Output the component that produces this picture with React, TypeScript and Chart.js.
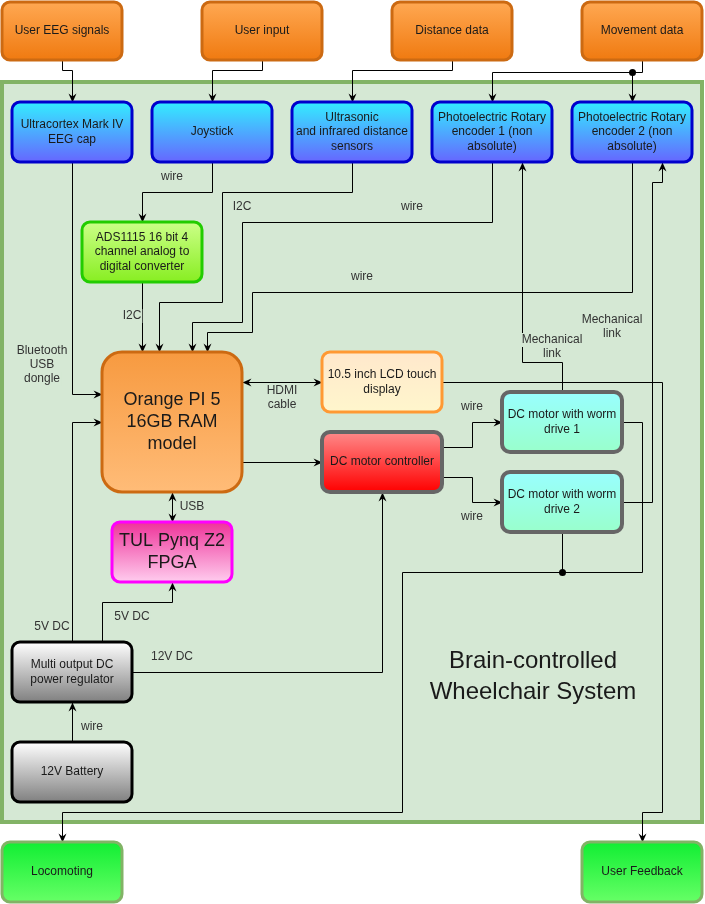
import React, { useEffect, useRef } from "react";
import { Chart, registerables } from "chart.js";

Chart.register(...registerables);

const FONT = '"Liberation Sans", Arial, sans-serif';

// node: [label, x, y, w, h, style, fontSize]
const nodeLabels = [
  "User EEG signals", "User input", "Distance data", "Movement data",
  "Ultracortex Mark IV\nEEG cap", "Joystick", "Ultrasonic\nand infrared distance\nsensors",
  "Photoelectric Rotary\nencoder 1 (non\nabsolute)", "Photoelectric Rotary\nencoder 2 (non\nabsolute)",
  "ADS1115 16 bit 4\nchannel analog to\ndigital converter", "Orange PI 5\n16GB RAM\nmodel",
  "10.5 inch LCD touch\ndisplay", "DC motor controller", "DC motor with worm\ndrive 1",
  "DC motor with worm\ndrive 2", "TUL Pynq Z2\nFPGA", "Multi output DC\npower regulator",
  "12V Battery", "Locomoting", "User Feedback",
];
const nodeBoxes: number[][] = [
  [2, 2, 120, 58], [202, 2, 120, 58], [392, 2, 120, 58], [582, 2, 120, 58],
  [12, 102, 120, 60], [152, 102, 120, 60], [292, 102, 120, 60], [432, 102, 120, 60], [572, 102, 120, 60],
  [82, 222, 120, 60], [102, 352, 140, 140], [322, 352, 120, 60], [322, 432, 120, 60],
  [502, 392, 120, 60], [502, 472, 120, 60], [112, 522, 120, 60], [12, 642, 120, 60],
  [12, 742, 120, 60], [2, 842, 120, 60], [582, 842, 120, 60],
];
const nodeStyles = [
  "input", "input", "input", "input", "blue", "blue", "blue", "blue", "blue",
  "lime", "pi", "lcd", "red", "motor", "motor", "fpga", "gray", "gray", "out", "out",
];

const styles: Record<string, { top: string; bottom: string; border: string; lw: number; fs: number; r: number }> = {
  input: { top: "#ffa852", bottom: "#f07a10", border: "#cc6a12", lw: 3, fs: 12, r: 8 },
  blue: { top: "#33eeff", bottom: "#6666ff", border: "#0000cc", lw: 3, fs: 12, r: 8 },
  lime: { top: "#ccff88", bottom: "#88ee22", border: "#22cc00", lw: 3, fs: 12, r: 8 },
  pi: { top: "#f79a40", bottom: "#ffbc78", border: "#cc6a12", lw: 3, fs: 18, r: 20 },
  lcd: { top: "#ffe8cc", bottom: "#fff6cc", border: "#ff9933", lw: 3, fs: 12, r: 8 },
  red: { top: "#ff8a8a", bottom: "#ff0000", border: "#666666", lw: 4, fs: 12, r: 8 },
  motor: { top: "#99ffff", bottom: "#99ffcc", border: "#666666", lw: 4, fs: 12, r: 8 },
  fpga: { top: "#ee3399", bottom: "#ffccee", border: "#ff00ff", lw: 3, fs: 18, r: 8 },
  gray: { top: "#ffffff", bottom: "#808080", border: "#000000", lw: 3, fs: 12, r: 8 },
  out: { top: "#11ee33", bottom: "#66ff66", border: "#82b366", lw: 3, fs: 12, r: 8 },
};

// edges: polyline points, arrow at end; startArrow for bidirectional
const edgePaths: number[][][] = [
  [[62, 60], [62, 70], [72, 70], [72, 102]],
  [[262, 60], [262, 70], [212, 70], [212, 102]],
  [[452, 60], [452, 70], [352, 70], [352, 102]],
  [[642, 60], [642, 72], [492, 72], [492, 102]],
  [[632, 72], [632, 102]],
  [[72, 162], [72, 394], [102, 394]],
  [[212, 162], [212, 192], [142, 192], [142, 222]],
  [[142, 282], [142, 352]],
  [[352, 162], [352, 192], [222, 192], [222, 302], [159, 302], [159, 352]],
  [[492, 162], [492, 222], [242, 222], [242, 322], [192, 322], [192, 352]],
  [[632, 162], [632, 292], [252, 292], [252, 332], [207, 332], [207, 352]],
  [[242, 382], [322, 382]],
  [[442, 382], [662, 382], [662, 812], [642, 812], [642, 842]],
  [[242, 462], [322, 462]],
  [[442, 447], [472, 447], [472, 422], [502, 422]],
  [[442, 477], [472, 477], [472, 502], [502, 502]],
  [[562, 392], [562, 362], [522, 362], [522, 162]],
  [[622, 502], [652, 502], [652, 182], [662, 182], [662, 162]],
  [[622, 422], [642, 422], [642, 572], [402, 572], [402, 812], [62, 812], [62, 842]],
  [[562, 532], [562, 572]],
  [[172, 492], [172, 522]],
  [[72, 642], [72, 422], [102, 422]],
  [[102, 642], [102, 602], [172, 602], [172, 582]],
  [[132, 672], [382, 672], [382, 492]],
  [[72, 742], [72, 702]],
];
const edgeArrows = [1, 1, 1, 1, 1, 1, 1, 1, 1, 1, 1, 2, 1, 1, 1, 1, 1, 1, 1, 0, 2, 1, 1, 1, 1];
const junctions: number[][] = [[632, 72], [562, 572]];

// edge labels: [text, x, y]
const edgeLabels: [string, number, number][] = [
  ["Bluetooth\nUSB\ndongle", 42, 365], ["wire", 172, 177], ["I2C", 132, 316], ["I2C", 242, 207],
  ["wire", 412, 207], ["wire", 362, 277], ["HDMI\ncable", 282, 398], ["wire", 472, 407],
  ["wire", 472, 517], ["Mechanical\nlink", 552, 347], ["Mechanical\nlink", 612, 327],
  ["USB", 192, 507], ["5V DC", 52, 627], ["5V DC", 132, 617], ["12V DC", 172, 657], ["wire", 92, 727],
];
const titleLines = ["Brain-controlled", "Wheelchair System"];

const diagramPlugin = {
  id: "diagram",
  afterDraw(chart: any) {
    const ctx: CanvasRenderingContext2D = chart.ctx;
    const sx = chart.scales.x, sy = chart.scales.y;
    const X = (v: number) => sx.getPixelForValue(v);
    const Y = (v: number) => sy.getPixelForValue(v);
    ctx.save();
    // container
    ctx.fillStyle = "#d5e8d4";
    ctx.strokeStyle = "#82b366";
    ctx.lineWidth = 4;
    ctx.fillRect(X(2), Y(82), X(702) - X(2), Y(822) - Y(82));
    ctx.strokeRect(X(2), Y(82), X(702) - X(2), Y(822) - Y(82));
    // title
    ctx.fillStyle = "#1a1a1a";
    ctx.font = `24px ${FONT}`;
    ctx.textAlign = "center";
    ctx.textBaseline = "middle";
    titleLines.forEach((t, i) => ctx.fillText(t, X(533), Y(661 + i * 31)));
    // edges
    const arrow = (x1: number, y1: number, x2: number, y2: number) => {
      const a = Math.atan2(y2 - y1, x2 - x1);
      ctx.beginPath();
      ctx.moveTo(x2, y2);
      ctx.lineTo(x2 - 9 * Math.cos(a) + 4 * Math.sin(a), y2 - 9 * Math.sin(a) - 4 * Math.cos(a));
      ctx.lineTo(x2 - 6 * Math.cos(a), y2 - 6 * Math.sin(a));
      ctx.lineTo(x2 - 9 * Math.cos(a) - 4 * Math.sin(a), y2 - 9 * Math.sin(a) + 4 * Math.cos(a));
      ctx.closePath();
      ctx.fill();
    };
    ctx.strokeStyle = "#000";
    ctx.fillStyle = "#000";
    ctx.lineWidth = 1;
    edgePaths.forEach((p, i) => {
      const pts = p.map(([a, b]) => [X(a) + 0.5, Y(b) + 0.5]);
      ctx.beginPath();
      pts.forEach(([a, b], j) => (j ? ctx.lineTo(a, b) : ctx.moveTo(a, b)));
      ctx.stroke();
      const n = pts.length;
      if (edgeArrows[i] >= 1) arrow(pts[n - 2][0], pts[n - 2][1], pts[n - 1][0], pts[n - 1][1]);
      if (edgeArrows[i] === 2) arrow(pts[1][0], pts[1][1], pts[0][0], pts[0][1]);
    });
    junctions.forEach(([a, b]) => {
      ctx.beginPath();
      ctx.arc(X(a) + 0.5, Y(b) + 0.5, 3.5, 0, Math.PI * 2);
      ctx.fill();
    });
    // edge labels
    ctx.font = `12px ${FONT}`;
    ctx.fillStyle = "#333";
    edgeLabels.forEach(([t, a, b]) => {
      const lines = t.split("\n");
      lines.forEach((l, k) => {
        const w = ctx.measureText(l).width;
        ctx.fillStyle = "#d5e8d4";
        ctx.fillRect(X(a) - w / 2 - 1, Y(b) + (k - (lines.length - 1) / 2) * 14 - 7, w + 2, 14);
        ctx.fillStyle = "#333";
        ctx.fillText(l, X(a), Y(b) + (k - (lines.length - 1) / 2) * 14);
      });
    });
    // nodes
    nodeLabels.forEach((label, i) => {
      const [bx, by, bw, bh] = nodeBoxes[i];
      const s = styles[nodeStyles[i]];
      const x0 = X(bx), y0 = Y(by), w = X(bx + bw) - x0, h = Y(by + bh) - y0;
      const g = ctx.createLinearGradient(0, y0, 0, y0 + h);
      g.addColorStop(0, s.top);
      g.addColorStop(1, s.bottom);
      ctx.beginPath();
      ctx.roundRect(x0, y0, w, h, s.r);
      ctx.fillStyle = g;
      ctx.fill();
      ctx.lineWidth = s.lw;
      ctx.strokeStyle = s.border;
      ctx.stroke();
      ctx.fillStyle = "#1a1a1a";
      ctx.font = `${s.fs}px ${FONT}`;
      const lines = label.split("\n");
      const lh = s.fs * 1.2;
      lines.forEach((l, k) =>
        ctx.fillText(l, x0 + w / 2, y0 + h / 2 + (k - (lines.length - 1) / 2) * lh)
      );
    });
    ctx.restore();
  },
};

export default function App() {
  const ref = useRef<HTMLCanvasElement | null>(null);
  useEffect(() => {
    document.body.style.margin = "0";
    if (!ref.current) return;
    const chart = new Chart(ref.current, {
      type: "scatter",
      data: { datasets: [{ data: [] }] },
      options: {
        responsive: false,
        animation: false,
        layout: { padding: 0 },
        plugins: { legend: { display: false }, tooltip: { enabled: false } },
        scales: {
          x: { type: "linear", min: 0, max: 705, display: false },
          y: { type: "linear", min: 0, max: 904, reverse: true, display: false },
        },
      },
      plugins: [diagramPlugin],
    });
    return () => chart.destroy();
  }, []);
  return <canvas ref={ref} width={705} height={904} style={{ display: "block", background: "#fff" }} />;
}
